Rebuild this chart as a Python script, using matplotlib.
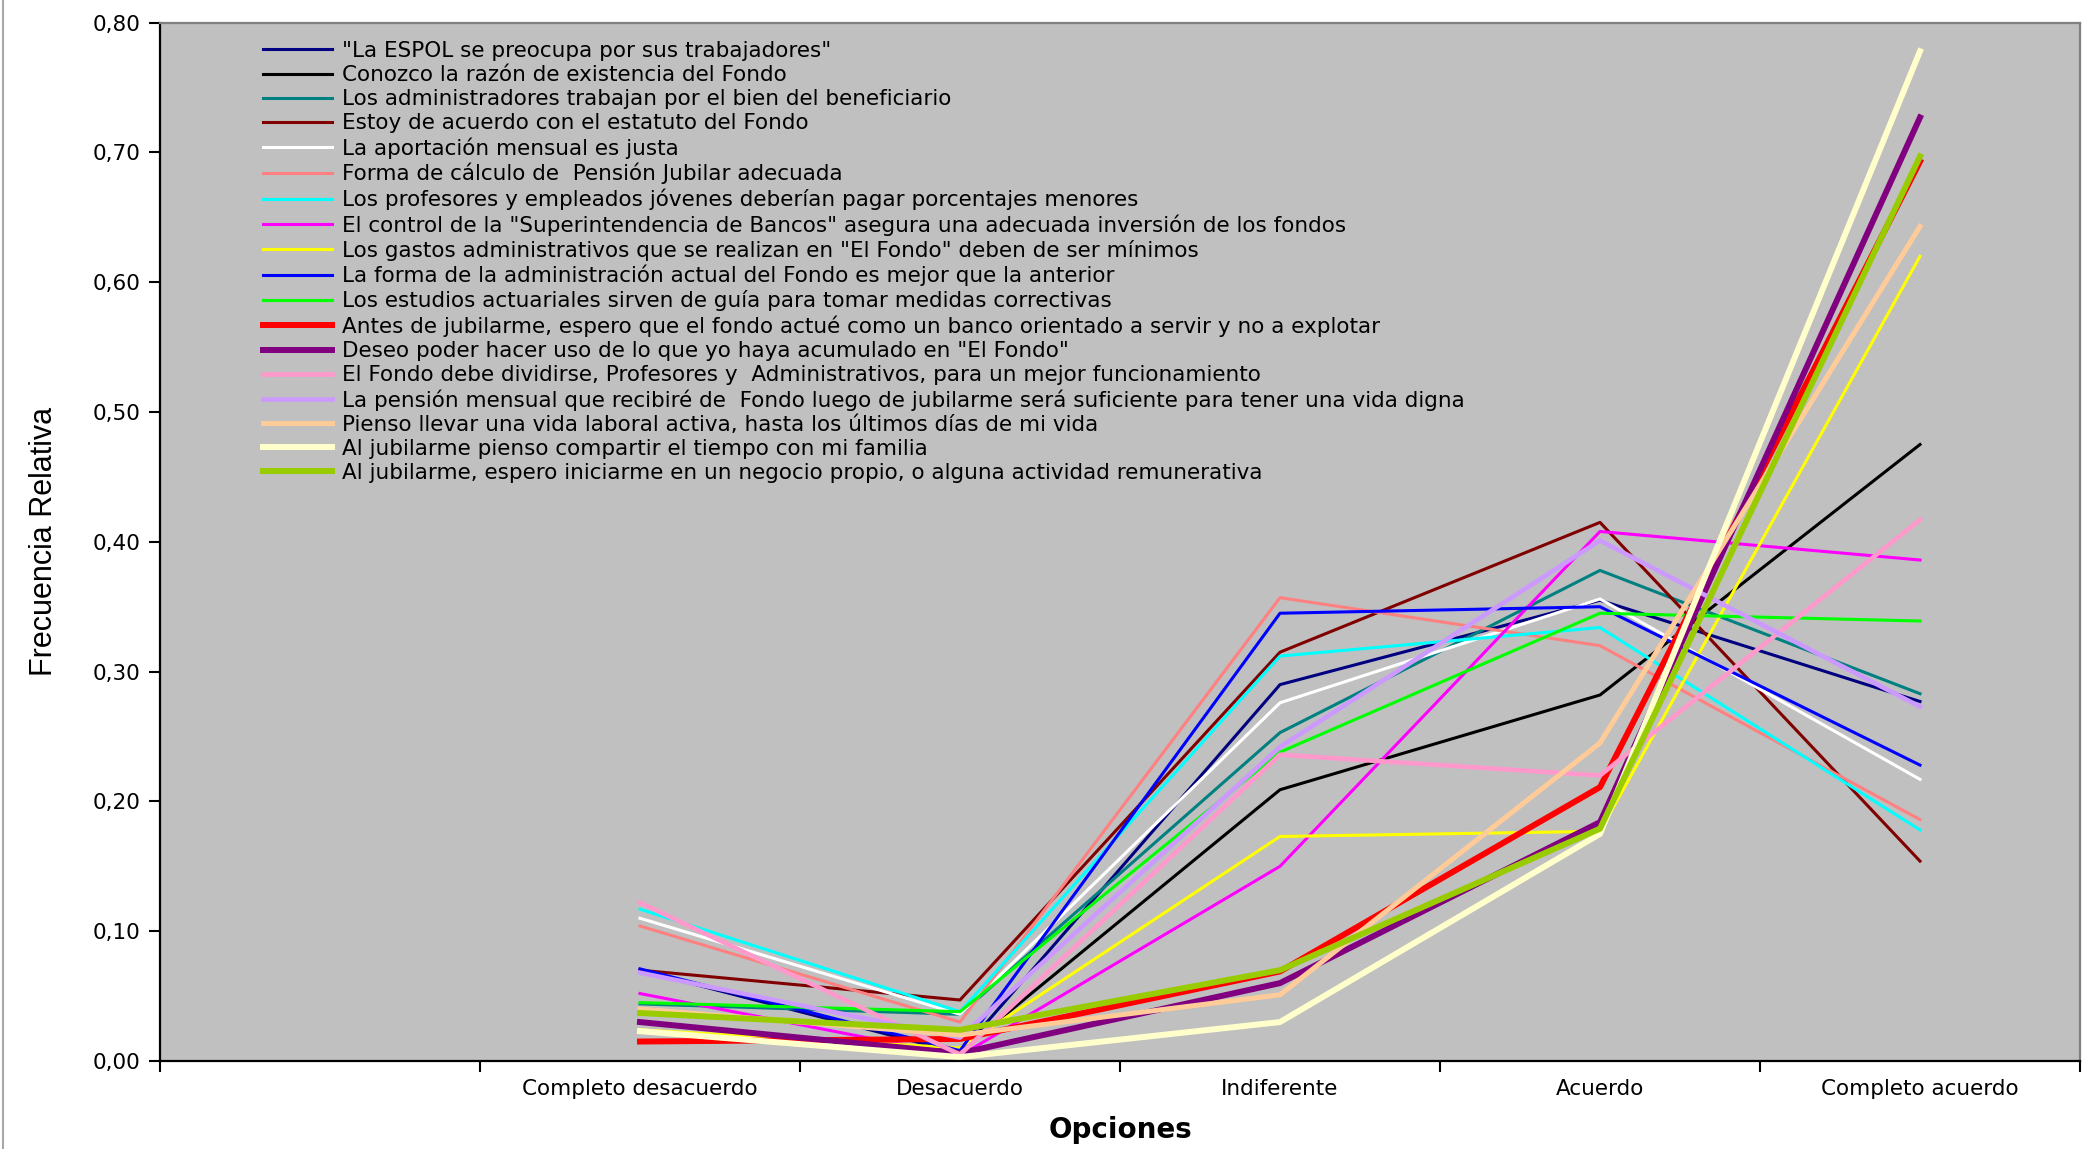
import matplotlib
matplotlib.use("Agg")
import matplotlib.pyplot as plt
import numpy as np
from matplotlib.lines import Line2D

# ---------------- data ----------------
categorias = ["", "Completo desacuerdo", "Desacuerdo", "Indiferente", "Acuerdo", "Completo acuerdo"]

etiquetas = [
    '"La ESPOL se preocupa por sus trabajadores"',
    'Conozco la razón de existencia del Fondo',
    'Los administradores trabajan por el bien del beneficiario',
    'Estoy de acuerdo con el estatuto del Fondo',
    'La aportación mensual es justa',
    'Forma de cálculo de  Pensión Jubilar adecuada',
    'Los profesores y empleados jóvenes deberían pagar porcentajes menores',
    'El control de la "Superintendencia de Bancos" asegura una adecuada inversión de los fondos',
    'Los gastos administrativos que se realizan en "El Fondo" deben de ser mínimos',
    'La forma de la administración actual del Fondo es mejor que la anterior',
    'Los estudios actuariales sirven de guía para tomar medidas correctivas',
    'Antes de jubilarme, espero que el fondo actué como un banco orientado a servir y no a explotar',
    'Deseo poder hacer uso de lo que yo haya acumulado en "El Fondo"',
    'El Fondo debe dividirse, Profesores y  Administrativos, para un mejor funcionamiento',
    'La pensión mensual que recibiré de  Fondo luego de jubilarme será suficiente para tener una vida digna',
    'Pienso llevar una vida laboral activa, hasta los últimos días de mi vida',
    'Al jubilarme pienso compartir el tiempo con mi familia',
    'Al jubilarme, espero iniciarme en un negocio propio, o alguna actividad remunerativa',
]

# values for: Completo desacuerdo, Desacuerdo, Indiferente, Acuerdo, Completo acuerdo
espol_trabajadores = [0.070, 0.006, 0.290, 0.355, 0.277]
razon_existencia   = [0.030, 0.007, 0.209, 0.282, 0.475]
administradores    = [0.044, 0.036, 0.253, 0.378, 0.283]
estatuto           = [0.070, 0.047, 0.315, 0.415, 0.154]
aportacion_justa   = [0.110, 0.036, 0.276, 0.356, 0.217]
calculo_pension    = [0.104, 0.030, 0.357, 0.320, 0.186]
jovenes_pagar      = [0.117, 0.038, 0.312, 0.334, 0.178]
superintendencia   = [0.052, 0.004, 0.150, 0.408, 0.386]
gastos_minimos     = [0.024, 0.010, 0.173, 0.177, 0.620]
admin_actual       = [0.071, 0.008, 0.345, 0.350, 0.228]
estudios_actuar    = [0.045, 0.038, 0.238, 0.345, 0.339]
fondo_banco        = [0.015, 0.017, 0.069, 0.211, 0.693]
uso_acumulado      = [0.030, 0.006, 0.060, 0.184, 0.727]
fondo_dividirse    = [0.122, 0.005, 0.236, 0.220, 0.417]
pension_digna      = [0.068, 0.018, 0.242, 0.401, 0.273]
vida_laboral       = [0.040, 0.020, 0.051, 0.245, 0.643]
tiempo_familia     = [0.023, 0.003, 0.030, 0.175, 0.778]
negocio_propio     = [0.037, 0.024, 0.070, 0.179, 0.697]

series = [espol_trabajadores, razon_existencia, administradores, estatuto,
          aportacion_justa, calculo_pension, jovenes_pagar, superintendencia,
          gastos_minimos, admin_actual, estudios_actuar, fondo_banco,
          uso_acumulado, fondo_dividirse, pension_digna, vida_laboral,
          tiempo_familia, negocio_propio]

colores = ["#000080", "#000000", "#008080", "#800000", "#FFFFFF", "#FF8080",
           "#00FFFF", "#FF00FF", "#FFFF00", "#0000FF", "#00FF00", "#FF0000",
           "#800080", "#FF99CC", "#CC99FF", "#FFCC99", "#FFFFCC", "#99CC00"]
anchos = [2.2] * 11 + [4.3, 4.3, 3.3, 3.3, 3.6, 4.3, 4.3]

# ---------------- figure ----------------
W, H, DPI = 2090, 1149, 100
fig = plt.figure(figsize=(W / DPI, H / DPI), dpi=DPI, facecolor="white")
ax_l, ax_r, ax_t, ax_b = 160, 2080, 22.7, 1061
ax = fig.add_axes([ax_l / W, 1 - ax_b / H, (ax_r - ax_l) / W, (ax_b - ax_t) / H])
ax.set_facecolor("#C0C0C0")

x = np.arange(1, len(categorias))
for vals, lab, col, lw in zip(series, etiquetas, colores, anchos):
    ax.plot(x, vals, color=col, lw=lw, label=lab, solid_joinstyle="round")

ax.set_xlim(-0.5, len(categorias) - 0.5)
ax.set_ylim(0, 0.8)

# x ticks: marks at category boundaries, labels at centers
ax.set_xticks(np.arange(-0.5, len(categorias), 1.0))
ax.set_xticklabels([])
ax.set_xticks(np.arange(len(categorias)), minor=True)
ax.set_xticklabels(categorias, minor=True, fontsize=15.5)
ax.tick_params(axis="x", which="major", direction="out", length=8, width=1.5, color="black")
ax.tick_params(axis="x", which="minor", length=0, pad=13)

yt = np.arange(0, 0.81, 0.1)
ax.set_yticks(yt)
ax.set_yticklabels([f"{v:.2f}".replace(".", ",") for v in yt], fontsize=15.5)
ax.tick_params(axis="y", direction="out", length=8, width=1.5, color="black", pad=6)

for s in ["left", "bottom"]:
    ax.spines[s].set_color("black")
    ax.spines[s].set_linewidth(1.6)
for s in ["top", "right"]:
    ax.spines[s].set_color("#808080")
    ax.spines[s].set_linewidth(1.6)

ax.set_xlabel("Opciones", fontsize=20, fontweight="bold", labelpad=12)
ax.set_ylabel("Frecuencia Relativa", fontsize=22, family=["Liberation Sans", "DejaVu Sans"])
ax.yaxis.set_label_coords((59 - ax_l) / (ax_r - ax_l), 0.5)

leg = ax.legend(loc="upper left",
                bbox_to_anchor=((263 - ax_l) / (ax_r - ax_l), 1 - (41 - ax_t) / (ax_b - ax_t)),
                frameon=False, fontsize=15.5, handlelength=3.2, handletextpad=0.45,
                labelspacing=0.19, borderpad=0, borderaxespad=0)

# left frame line of the original page
fig.add_artist(Line2D([3 / W, 3 / W], [0, 1], color="#A8A8A8", lw=1.5, transform=fig.transFigure))

fig.savefig("out.png", dpi=DPI, facecolor="white")
